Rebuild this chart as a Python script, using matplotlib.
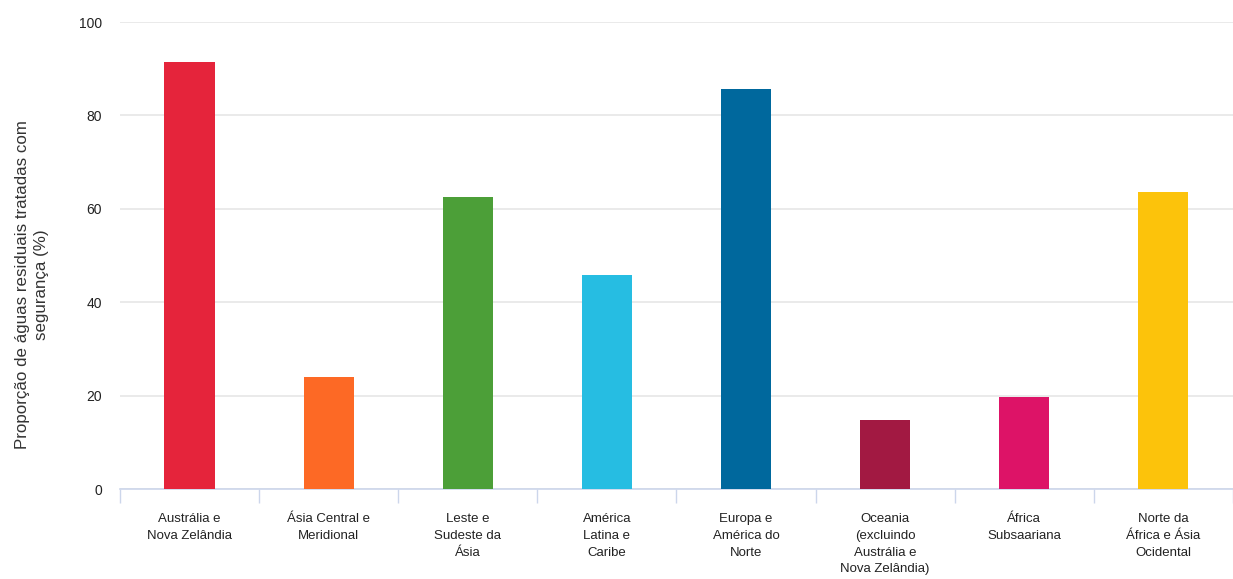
import matplotlib.pyplot as plt
import numpy as np

plt.rcParams['font.family'] = ['Liberation Sans', 'DejaVu Sans']

# data
regions = ['Austrália e\nNova Zelândia', 'Ásia Central e\nMeridional', 'Leste e\nSudeste da\nÁsia',
           'América\nLatina e\nCaribe', 'Europa e\nAmérica do\nNorte',
           'Oceania\n(excluindo\nAustrália e\nNova Zelândia)', 'África\nSubsaariana',
           'Norte da\nÁfrica e Ásia\nOcidental']
values = [91.5, 23.9, 62.6, 45.9, 85.7, 14.8, 19.8, 63.7]
colors = ['#E5243B', '#FD6925', '#4C9F38', '#26BDE2', '#00689D', '#A21942', '#DD1367', '#FCC30B']

fig = plt.figure(figsize=(12.33, 5.79), dpi=100)
ax = fig.add_axes([0.0973, 0.1554, 0.9027, 0.8066])

x = np.arange(len(regions))
ax.bar(x, values, width=0.36, color=colors, zorder=3)

ax.set_xlim(-0.5, len(regions) - 0.5)
ax.set_ylim(0, 100)
ax.set_yticks([0, 20, 40, 60, 80, 100])
ax.grid(axis='y', color='#e6e6e6', linewidth=1.2, zorder=0)
ax.tick_params(axis='y', length=0, pad=13, labelsize=10, labelcolor='#222222')

# category labels, with tick marks between categories
ax.set_xticks(x)
ax.set_xticklabels(regions, fontsize=9.5, color='#222222', linespacing=1.55, va='top')
ax.tick_params(axis='x', which='major', length=0, pad=17)
ax.set_xticks(np.arange(len(regions) + 1) - 0.5, minor=True)
ax.tick_params(axis='x', which='minor', length=10, color='#ccd6eb', width=1)

for s in ['top', 'right', 'left']:
    ax.spines[s].set_visible(False)
ax.spines['bottom'].set_color('#ccd6eb')
ax.spines['bottom'].set_linewidth(1.2)

fig.text(32 / 1233, 1 - 285 / 579, 'Proporção de águas residuais tratadas com\nsegurança (%)',
         rotation=90, ha='center', va='center', multialignment='center',
         fontsize=12.2, color='#333333', linespacing=1.35)

plt.savefig('out.png', dpi=100)
